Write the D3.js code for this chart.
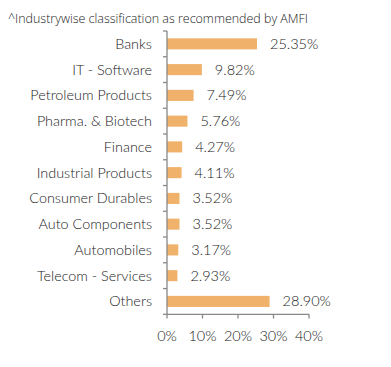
<!DOCTYPE html>
<html><head><meta charset="utf-8">
<script src="https://cdn.jsdelivr.net/npm/d3@7"></script>
<style>body{margin:0;background:#fff}svg{display:block}text{font-family:Lato,sans-serif;font-weight:300}</style>
</head><body>
<script>
const categories = ["Banks","IT - Software","Petroleum Products","Pharma. & Biotech","Finance","Industrial Products","Consumer Durables","Auto Components","Automobiles","Telecom - Services","Others"];
const values = [25.35,9.82,7.49,5.76,4.27,4.11,3.52,3.52,3.17,2.93,28.90];
const valueLabels = ["25.35%","9.82%","7.49%","5.76%","4.27%","4.11%","3.52%","3.52%","3.17%","2.93%","28.90%"];
const xTicks = [0,10,20,30,40];
const title = "^Industrywise classification as recommended by AMFI";

const W=391,H=367;
const svg=d3.select("body").append("svg").attr("width",W).attr("height",H);
const x=d3.scaleLinear().domain([0,40]).range([167,309]);
const y=d3.scaleBand().domain(categories).range([31,314.3]).paddingInner(0.57).paddingOuter(0.285);

svg.append("text").attr("x",8).attr("y",23).attr("font-size",12)
  .style("font-family","'Open Sans',sans-serif").style("font-weight",300)
  .attr("textLength",300).attr("lengthAdjust","spacingAndGlyphs")
  .attr("fill","#222").text(title);

svg.selectAll("rect.bar").data(values).enter().append("rect")
  .attr("x",x(0)).attr("y",(d,i)=>y(categories[i]))
  .attr("width",d=>x(d)-x(0)).attr("height",y.bandwidth())
  .attr("fill","#f0b26b");

svg.selectAll("text.val").data(values).enter().append("text")
  .attr("x",d=>x(d)+13).attr("y",(d,i)=>y(categories[i])+y.bandwidth()/2)
  .attr("dy","0.35em").attr("font-size",14.5).attr("fill","#222")
  .text((d,i)=>valueLabels[i]);

// y axis
const yStep=y.step();
const yg=svg.append("g");
yg.append("line").attr("x1",x(0)).attr("x2",x(0)).attr("y1",31).attr("y2",314.3).attr("stroke","#888").attr("stroke-width",1.3);
const bounds=d3.range(categories.length+1).map(i=>31+i*yStep);
yg.selectAll("line.t").data(bounds).enter().append("line")
  .attr("x1",x(0)-4).attr("x2",x(0)).attr("y1",d=>d).attr("y2",d=>d).attr("stroke","#888").attr("stroke-width",1.3);
yg.selectAll("text").data(categories).enter().append("text")
  .attr("x",152).attr("y",d=>y(d)+y.bandwidth()/2).attr("dy","0.35em")
  .attr("text-anchor","end").attr("font-size",14.4).attr("fill","#222").text(d=>d);

// x axis
const xg=svg.append("g");
xg.append("line").attr("x1",x(0)).attr("x2",x(40)).attr("y1",314.3).attr("y2",314.3).attr("stroke","#888").attr("stroke-width",1.3);
xg.selectAll("line.t").data(xTicks).enter().append("line")
  .attr("x1",d=>x(d)).attr("x2",d=>x(d)).attr("y1",314.3).attr("y2",318.5).attr("stroke","#888").attr("stroke-width",1.3);
xg.selectAll("text").data(xTicks).enter().append("text")
  .attr("x",d=>x(d)).attr("y",336).attr("dy","0.35em").attr("text-anchor","middle")
  .attr("font-size",14.5).attr("fill","#222").text(d=>d+"%");
</script>
</body></html>
